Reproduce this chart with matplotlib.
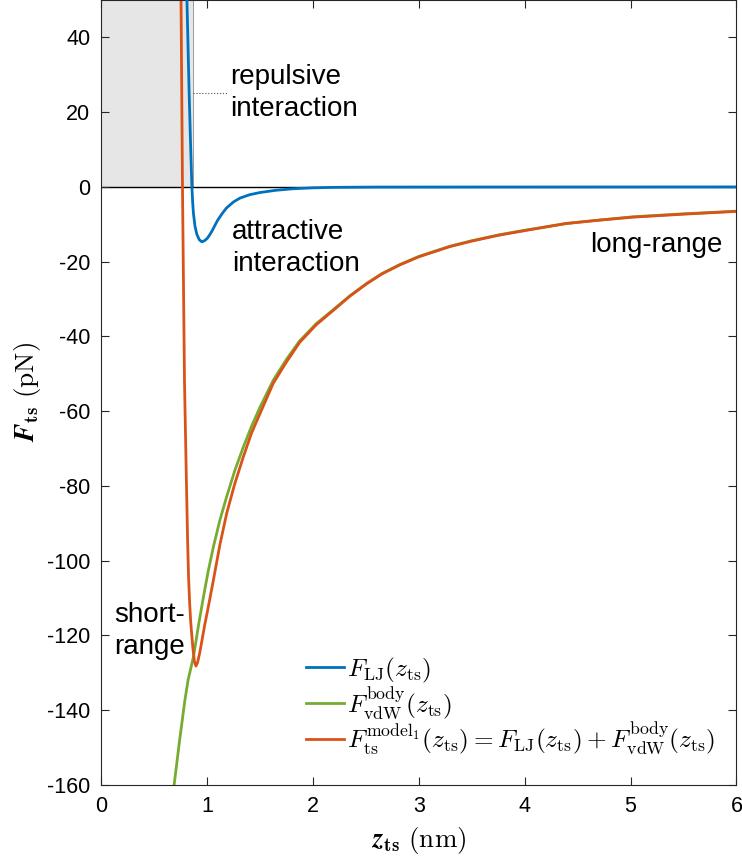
import matplotlib.pyplot as plt
import numpy as np

plt.rcParams['font.family'] = ['Liberation Sans', 'DejaVu Sans']
plt.rcParams['mathtext.fontset'] = 'cm'
plt.rcParams['axes.unicode_minus'] = False

# values (z in nm, F in pN)
z_lj = [0.805, 0.83, 0.845, 0.856, 0.864, 0.871, 0.885, 0.903, 0.925, 0.95, 0.975,
        1.0, 1.025, 1.05, 1.075, 1.1, 1.14, 1.184, 1.25, 1.31, 1.40, 1.50, 1.65, 1.81,
        2.0, 2.2, 2.6, 6.0]
f_lj = [55, 25, 10, 0, -4.5, -7.2, -10.5, -12.7, -14.1, -14.7, -14.4,
        -13.8, -12.8, -11.6, -10.2, -8.9, -7.2, -5.6, -4.0, -3.0, -2.1, -1.5, -0.9, -0.5,
        -0.25, -0.12, -0.04, 0]

z_vdw = [0.688, 0.74, 0.79, 0.82, 0.871, 0.92, 0.965, 1.01, 1.059, 1.12, 1.184, 1.26, 1.342,
         1.42, 1.50, 1.625, 1.75, 1.874, 2.03, 2.189, 2.35, 2.503, 2.65, 2.818, 3.0, 3.29,
         3.5, 3.76, 4.0, 4.39, 4.7, 5.02, 5.5, 6.0]
f_vdw = [-160, -148, -137.3, -131.9, -125.7, -117.0, -109.7, -102.8, -96.3, -89.2, -82.9, -76.0,
         -69.6, -64.0, -58.9, -51.7, -46.1, -41.2, -36.6, -32.9, -29.1, -25.9, -23.2, -20.8, -18.6,
         -15.9, -14.4, -12.8, -11.6, -9.8, -8.9, -8.0, -7.2, -6.5]

z_sum = [0.752, 0.767, 0.786, 0.805, 0.815, 0.824, 0.835, 0.845, 0.864, 0.88, 0.894, 0.91,
         0.931, 0.95, 0.975, 1.01, 1.059, 1.12, 1.184, 1.26, 1.342, 1.42, 1.50, 1.625, 1.75,
         1.874, 2.03, 2.189, 2.35, 2.503, 2.65, 2.818, 3.0, 3.29, 3.5, 3.76, 4.0, 4.39, 4.7,
         5.02, 5.5, 6.0]
f_sum = [55, 0, -52, -80, -94, -104, -111.5, -116.5, -123, -127, -128.2, -127.2,
         -124.5, -121.5, -117.5, -112.5, -105.2, -95.8, -87.4, -79.5, -72.2, -65.8, -60.6, -52.5,
         -46.8, -41.6, -36.9, -33.1, -29.2, -26.0, -23.3, -20.9, -18.7, -16.0, -14.5, -12.9,
         -11.7, -9.8, -8.9, -8.1, -7.3, -6.55]

shade_edge = 0.868
arrow_y = 25

blue = '#0072BD'
green = '#77AC30'
orange = '#D95319'
axc = '#262626'

fig = plt.figure(figsize=(7.42, 8.61), dpi=100)
ax = fig.add_axes([0.1365, 0.0883, 0.856, 0.9117])

ax.fill_between([0, shade_edge], 0, 50, color='#e6e6e6', lw=0, zorder=0)
ax.plot([shade_edge, shade_edge], [0, 50], color='#999999', lw=0.7, zorder=1)
ax.plot([shade_edge, 1.2], [arrow_y, arrow_y], color='#555555', lw=0.8, ls=':', zorder=1)
ax.axhline(0, color='k', lw=1.0, zorder=1)

ax.plot(z_lj, f_lj, color=blue, lw=2.0, label=r'$F_\mathrm{LJ}(z_\mathrm{ts})$', zorder=3)
ax.plot(z_vdw, f_vdw, color=green, lw=2.0,
        label=r'$F_\mathrm{vdW}^\mathrm{body}(z_\mathrm{ts})$', zorder=2)
ax.plot(z_sum, f_sum, color=orange, lw=2.0,
        label=r'$F_\mathrm{ts}^{\mathrm{model}_1}(z_\mathrm{ts}) = F_\mathrm{LJ}(z_\mathrm{ts}) + F_\mathrm{vdW}^\mathrm{body}(z_\mathrm{ts})$',
        zorder=2)

ax.set_xlim(0, 6)
ax.set_ylim(-160, 50)
ax.set_xticks(range(0, 7))
ax.set_yticks(range(-160, 41, 20))
ax.tick_params(direction='in', top=True, right=True, length=6, width=0.8,
               labelsize=15.5, colors=axc, labelcolor='black', pad=8)
for s in ax.spines.values():
    s.set_color(axc)
    s.set_linewidth(0.8)

ax.set_xlabel(r'$\mathbfit{z}_\mathbf{ts}\ (\mathrm{nm})$', fontsize=19.5, labelpad=6)
ax.set_ylabel(r'$\mathbfit{F}_\mathbf{ts}\ (\mathrm{pN})$', fontsize=19.5, labelpad=3)

tk = dict(fontsize=20, color='black', linespacing=1.3)
ax.text(1.215, arrow_y, 'repulsive\ninteraction', ha='left', va='center', **tk)
ax.text(1.235, -16.4, 'attractive\ninteraction', ha='left', va='center', **tk)
ax.text(5.87, -15.6, 'long-range', ha='right', va='center', **tk)
ax.text(0.12, -118.9, 'short-\nrange', ha='left', va='center', **tk)

ax.legend(loc='lower left', bbox_to_anchor=(0.314, 0.03), frameon=False, fontsize=18.2,
          handlelength=1.5, handletextpad=0.15, labelspacing=0.0, borderaxespad=0,
          borderpad=0.2)

fig.savefig('out.png', dpi=100)
